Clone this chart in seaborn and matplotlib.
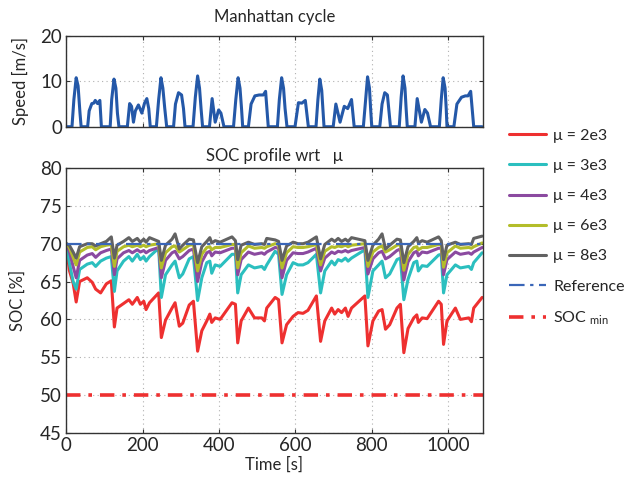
import numpy as np
import pandas as pd
import matplotlib
matplotlib.use("Agg")
import matplotlib.pyplot as plt
import seaborn as sns

# speed profile (Manhattan cycle), breakpoints
t_speed = [0, 15, 20, 26, 31, 36, 39, 56, 60, 67, 72, 76, 82, 88, 92, 115, 119, 125, 130, 134, 138,
           160, 166, 171, 176, 181, 189, 198, 205, 211, 216, 220, 236, 242, 248, 253, 258, 263,
           281, 286, 294, 302, 307, 311, 332, 338, 344, 349, 353, 357, 375, 382, 390, 399, 405, 413,
           438, 444, 450, 455, 459, 462, 477, 484, 494, 505, 516, 522, 529, 553, 558, 564, 569, 573, 578,
           599, 608, 617, 626, 634, 654, 659, 664, 669, 672, 675, 699, 706, 717, 728, 737, 747, 754,
           778, 784, 789, 794, 797, 800, 821, 827, 834, 841, 849, 872, 877, 882, 887, 890, 893,
           913, 919, 930, 939, 946, 954, 977, 982, 987, 992, 995, 997, 1015, 1023, 1035, 1045, 1052,
           1059, 1067, 1089]
v_speed = [0, 0, 6, 10.8, 9, 3, 0, 0, 3.5, 5.1, 5.2, 5.8, 5.1, 5.8, 0, 0, 6, 10.5, 8.5, 3, 0,
           0, 5.1, 4.5, 1, 3.5, 4.8, 3, 5.2, 6.2, 4, 0, 0, 6, 10.8, 8.5, 4, 0,
           0, 5, 7.5, 7, 4, 0, 0, 6.5, 11.2, 8.5, 4, 0, 0, 6.2, 1, 3.7, 3, 0,
           0, 6, 10.8, 8.5, 4, 0, 0, 5, 6.8, 7, 7, 7.8, 0, 0, 6, 10.8, 8.5, 4, 0,
           0, 5.3, 5.2, 5.8, 0, 0, 6, 10.5, 8, 4, 0, 0, 5, 1, 4.5, 4, 6, 0,
           0, 6, 11, 8.5, 4, 0, 0, 5, 7.5, 7, 0, 0, 6.5, 11.2, 8.5, 4, 0,
           0, 6.2, 1, 3.8, 3, 0, 0, 6, 10.8, 8.5, 4, 0, 0, 5, 6.5, 6.8, 6.8,
           7.8, 0, 0]

# SOC traces, one shared time grid
t_soc = [0, 8, 18, 26, 35, 55, 68, 77, 90, 105, 118, 126, 133, 150, 164, 173, 186, 194, 203, 209,
         218, 242, 249, 260, 277, 285, 296, 305, 322, 333, 344, 355, 368, 376, 381, 390, 403, 434, 443, 449,
         458, 477, 493, 512, 519, 525, 547,
         556, 565, 577, 594, 607, 620, 633, 655, 666, 677, 695, 703, 712, 721, 731, 738, 747, 782, 790, 803,
         818, 827, 836, 847, 866, 875, 884, 895, 910, 918, 922, 932, 945, 975, 982, 988, 997, 1019, 1032, 1054,
         1061, 1067, 1089]

soc_2e3 = [70, 66.5, 64.8, 62.3, 65.0, 65.5, 64.9, 64.0, 63.5, 64.7, 65.1, 59.0, 61.5, 62.1, 62.6, 62.0, 62.9, 62.0, 62.4, 61.3,
           62.2, 63.5, 57.6, 59.9, 61.5, 62.2, 59.1, 59.5, 61.9, 62.4, 55.8, 58.5, 59.8, 60.7, 59.6, 60.2, 60.0, 62.2, 62.0, 56.9,
           59.8, 61.5, 60.2, 60.2, 59.8, 61.5, 62.9,
           62.6, 56.9, 59.3, 60.4, 60.9, 60.8, 61.2, 63.1, 57.1, 59.8, 61.5, 60.7, 61.3, 60.9, 61.5, 60.4, 61.5, 63.1, 56.5, 59.8,
           61.1, 61.3, 58.7, 59.3, 61.5, 62.0, 55.6, 58.8, 60.2, 60.6, 59.6, 60.2, 60.1, 62.4, 62.0, 56.7, 59.8, 61.5, 60.0, 60.2,
           59.7, 61.5, 62.9]
soc_3e3 = [70, 67.5, 65.0, 64.0, 66.6, 67.3, 67.5, 67.0, 67.7, 68.1, 68.3, 63.7, 66.4, 67.7, 68.3, 67.7, 68.6, 67.9, 68.3, 67.7,
           68.3, 69.4, 62.9, 65.9, 67.2, 67.7, 65.5, 66.0, 68.0, 68.3, 62.5, 65.5, 67.5, 67.7, 66.1, 67.2, 67.0, 68.6, 68.6, 63.5,
           65.9, 67.2, 66.8, 67.0, 66.6, 67.2, 69.0,
           68.6, 63.3, 65.9, 67.5, 67.2, 67.2, 67.5, 68.6, 63.5, 66.4, 67.7, 67.2, 67.9, 67.7, 68.1, 67.7, 68.1, 69.2, 62.9, 66.4,
           67.2, 67.7, 65.5, 66.0, 67.9, 68.1, 62.6, 65.3, 67.5, 67.7, 66.4, 67.1, 67.0, 68.5, 68.6, 63.5, 65.9, 67.2, 66.8, 67.0,
           66.6, 67.5, 68.8]
soc_4e3 = [70, 69.0, 67.0, 65.5, 67.8, 68.5, 68.7, 68.2, 68.8, 69.1, 69.3, 65.9, 68.0, 68.8, 69.1, 68.8, 69.2, 68.9, 69.1, 68.8,
           69.1, 69.5, 65.5, 67.8, 68.8, 69.0, 68.0, 68.3, 69.1, 69.3, 65.0, 67.6, 68.8, 69.0, 68.4, 68.9, 68.8, 69.4, 69.4, 65.9,
           67.9, 68.9, 68.6, 68.8, 68.6, 68.9, 69.5,
           69.4, 65.5, 67.8, 68.8, 68.7, 68.7, 68.9, 69.4, 66.4, 68.1, 68.9, 68.7, 69.0, 68.9, 69.1, 68.9, 69.1, 69.5, 66.0, 68.0,
           68.8, 69.0, 68.0, 68.3, 69.1, 69.3, 65.2, 67.6, 68.8, 69.0, 68.4, 68.9, 68.8, 69.4, 69.4, 65.9, 67.9, 68.9, 68.6, 68.8,
           68.6, 68.9, 69.5]
soc_6e3 = [70, 69.5, 68.2, 67.2, 68.9, 69.5, 69.6, 69.2, 69.6, 69.8, 69.9, 67.0, 69.0, 69.6, 69.8, 69.6, 69.8, 69.6, 69.8, 69.6,
           69.8, 70.0, 66.8, 68.8, 69.6, 69.7, 68.9, 69.2, 69.8, 69.9, 66.4, 68.6, 69.5, 69.6, 69.2, 69.5, 69.5, 69.9, 69.9, 66.8,
           68.8, 69.7, 69.4, 69.5, 69.4, 69.6, 70.0,
           69.9, 66.8, 68.8, 69.6, 69.5, 69.5, 69.6, 69.9, 67.2, 69.0, 69.6, 69.5, 69.7, 69.6, 69.8, 69.6, 69.8, 70.0, 67.0, 68.9,
           69.5, 69.7, 68.9, 69.2, 69.8, 69.9, 66.5, 68.6, 69.5, 69.6, 69.2, 69.5, 69.5, 69.9, 69.9, 66.9, 68.8, 69.7, 69.4, 69.5,
           69.4, 69.6, 70.1]
soc_8e3 = [70, 69.8, 68.9, 68.1, 69.6, 70.0, 70.0, 69.7, 70.0, 70.3, 70.9, 68.1, 69.8, 70.3, 70.8, 70.3, 70.7, 70.2, 70.6, 70.2,
           70.8, 70.3, 67.8, 69.8, 70.6, 71.3, 69.3, 69.8, 70.6, 70.5, 67.5, 69.6, 70.3, 70.8, 70.1, 70.4, 70.2, 70.9, 70.4, 67.9,
           69.8, 70.2, 69.9, 70.0, 69.9, 70.7, 70.5,
           70.3, 67.8, 69.7, 70.2, 70.0, 70.0, 70.2, 70.9, 68.0, 69.9, 70.6, 70.3, 70.7, 70.3, 70.6, 70.3, 70.8, 70.4, 67.8, 69.8,
           70.6, 71.3, 69.3, 69.8, 70.6, 70.5, 67.5, 69.6, 70.3, 70.8, 70.1, 70.4, 70.2, 70.9, 70.4, 67.9, 69.8, 70.2, 69.9, 70.0,
           69.9, 70.7, 71.0]

labels = ["\u03bc = 2e3", "\u03bc = 3e3", "\u03bc = 4e3", "\u03bc = 6e3", "\u03bc = 8e3"]
colors = ["#ee3030", "#2bbfbf", "#8b4aa0", "#b3bd2a", "#626262"]
soc_ref = 70
soc_min = 50

sns.set_style("ticks")
plt.rcParams['font.family'] = ['Lato', 'DejaVu Sans']
plt.rcParams['mathtext.fontset'] = 'custom'
plt.rcParams['mathtext.rm'] = 'Lato'
plt.rcParams['xtick.direction'] = 'in'
plt.rcParams['ytick.direction'] = 'in'

fig = plt.figure(figsize=(6.25, 4.8), dpi=100)
ax1 = fig.add_axes([0.106, 0.736, 0.666, 0.189])
ax2 = fig.add_axes([0.106, 0.098, 0.666, 0.552])

# top: speed
speed = pd.DataFrame({"t": t_speed, "v": v_speed})
sns.lineplot(data=speed, x="t", y="v", ax=ax1, color="#2458a8", lw=2.2, sort=False)
ax1.set_xlim(0, 1090)
ax1.set_ylim(0, 20)
ax1.set_yticks([0, 10, 20])
ax1.set_xticks([0, 200, 400, 600, 800, 1000])
ax1.set_xticklabels([])
ax1.set_xlabel("")
ax1.set_ylabel("Speed [m/s]", fontsize=12, labelpad=8)
ax1.set_title("Manhattan cycle", fontsize=12, pad=10)

# bottom: SOC
rows = []
for lab, vals in zip(labels, [soc_2e3, soc_3e3, soc_4e3, soc_6e3, soc_8e3]):
    rows.append(pd.DataFrame({"t": t_soc, "soc": vals, "mu": lab}))
soc = pd.concat(rows, ignore_index=True)
sns.lineplot(data=soc, x="t", y="soc", hue="mu", palette=colors, ax=ax2, lw=2.2, legend=False, sort=False)
ref_line = ax2.axhline(soc_ref, color="#3a66b8", lw=1.6, ls=(0, (7, 2.5, 1.5, 2.5)))
min_line = ax2.axhline(soc_min, color="#ee3030", lw=2.6, ls=(0, (4, 2.2, 1.0, 2.2)))
ax2.set_xlim(0, 1090)
ax2.set_ylim(45, 80)
ax2.set_xticks([0, 200, 400, 600, 800, 1000])
ax2.set_yticks([45, 50, 55, 60, 65, 70, 75, 80])
ax2.set_xlabel("Time [s]", fontsize=12, labelpad=2)
ax2.set_ylabel("SOC [%]", fontsize=12, labelpad=10)
ax2.set_title("SOC profile wrt   \u03bc", fontsize=12, pad=5)

for ax in (ax1, ax2):
    ax.grid(True, ls=(0, (1, 3)), color="#b0b0b0", lw=0.8)
    ax.tick_params(labelsize=13.5, length=3, top=True, right=True, pad=3, color="#333333")
    for s in ax.spines.values():
        s.set_color("#333333")
        s.set_linewidth(1.0)

handles = list(ax2.lines[:5]) + [ref_line, min_line]
leg_labels = labels + ["Reference", "SOC $_{\\mathrm{min}}$"]
fig.legend(handles, leg_labels, loc="upper left", bbox_to_anchor=(0.792, 0.762), frameon=False,
           fontsize=11.5, labelspacing=1.0, handlelength=2.3, handletextpad=0.45)

fig.savefig("out.png", dpi=100)
